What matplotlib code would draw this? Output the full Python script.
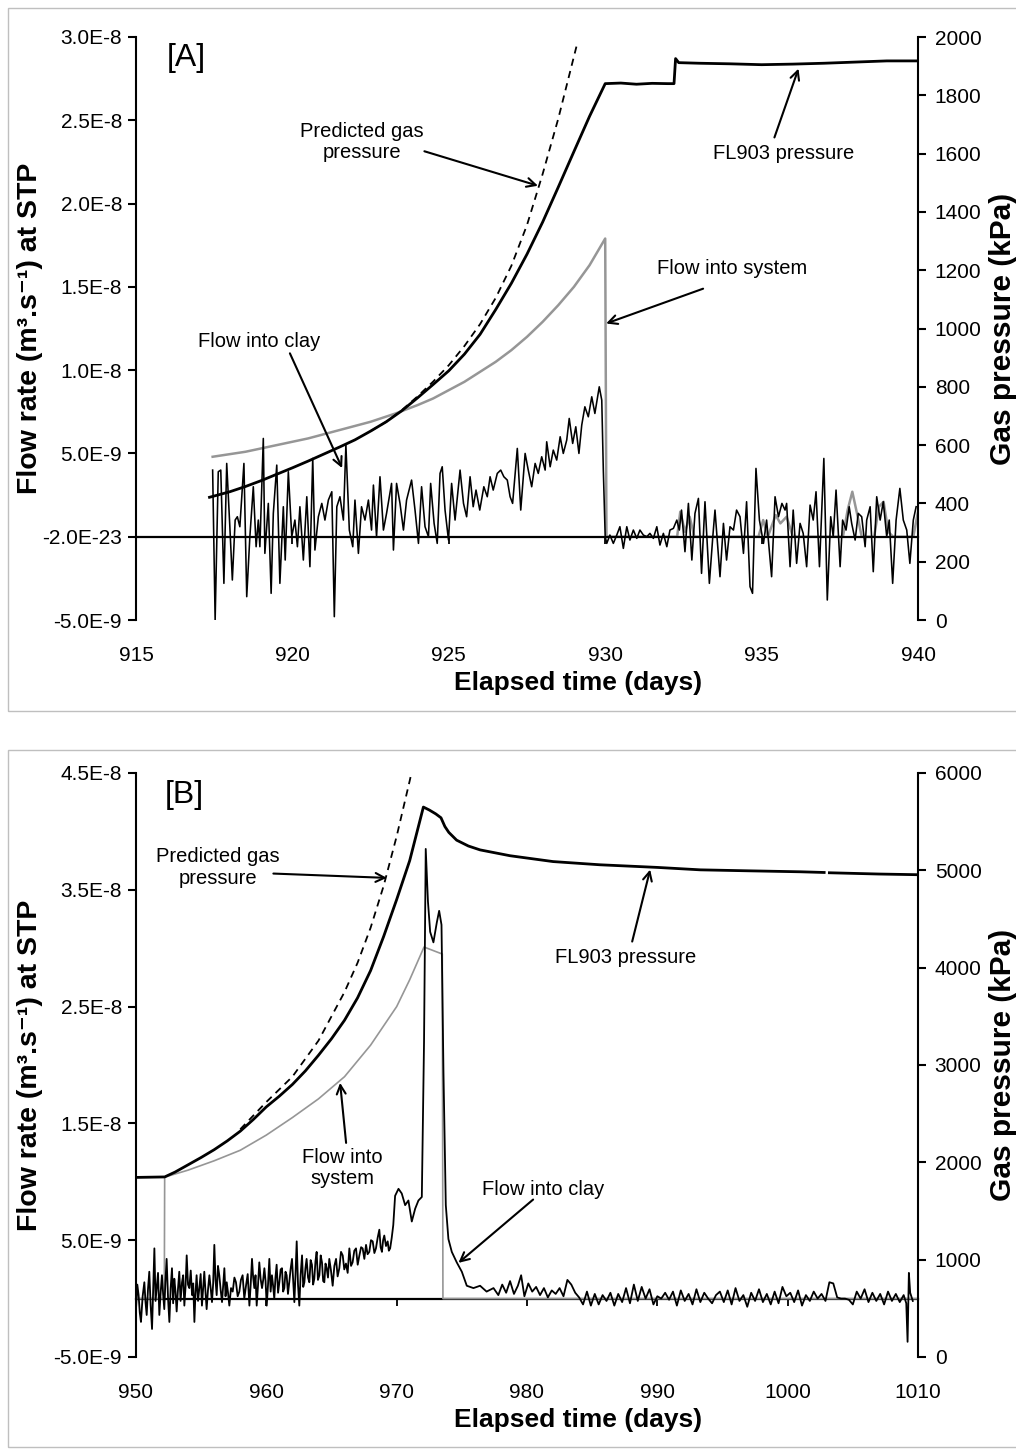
import matplotlib
matplotlib.use('Agg')
import matplotlib.pyplot as plt
import numpy as np
from matplotlib.patches import Rectangle

plt.rcParams['font.family'] = ['Liberation Sans', 'DejaVu Sans']

W, H = 1016, 1450
E9 = 1e-9

# ---------------- Panel A data ----------------
a_x_ticks = [915, 920, 925, 930, 935, 940]
a_flow_ticks = [-5e-9, 0, 5e-9, 1.0e-8, 1.5e-8, 2.0e-8, 2.5e-8, 3.0e-8]
a_flow_labels = ['-5.0E-9', '-2.0E-23', '5.0E-9', '1.0E-8', '1.5E-8', '2.0E-8', '2.5E-8', '3.0E-8']
a_press_ticks = [0, 200, 400, 600, 800, 1000, 1200, 1400, 1600, 1800, 2000]

a_press_days = [917.35, 918.0, 918.5, 919.0, 919.5, 920.0, 920.5, 921.0, 921.5, 922.0, 922.5,
                923.0, 923.5, 924.0, 924.5, 925.0, 925.5, 926.0, 926.5, 927.0, 927.5, 928.0,
                928.5, 929.0, 929.5, 930.0, 930.5, 931.0, 931.5, 932.0, 932.2, 932.25, 932.35,
                933.0, 934.0, 935.0, 936.0, 937.0, 938.0, 939.0, 940.0]
a_press_kpa = [421, 440, 458, 478, 500, 522, 545, 569, 593, 618, 648,
               680, 718, 762, 808, 855, 912, 980, 1065, 1155, 1255, 1365,
               1485, 1607, 1728, 1840, 1842, 1838, 1841, 1840, 1840, 1926, 1912,
               1910, 1908, 1905, 1907, 1910, 1914, 1918, 1918]

a_pred_days = [922.5, 923.0, 923.5, 924.0, 924.5, 925.0, 925.5, 926.0, 926.5, 927.0, 927.5,
               928.0, 928.5, 929.08]
a_pred_kpa = [648, 680, 720, 767, 818, 874, 940, 1015, 1105, 1215, 1355, 1530, 1720, 1967]

a_sys_days = [917.45, 918.5, 919.5, 920.5, 921.5, 922.5, 923.3, 924.0, 924.5, 925.0, 925.5,
              926.0, 926.5, 927.0, 927.5, 928.0, 928.5, 929.0, 929.5, 930.0, 930.04,
              932.3, 932.4, 932.55, 932.7, 932.85, 934.9, 935.05, 935.2, 935.45, 935.6, 935.8,
              936.0, 937.6, 937.75, 937.9, 938.05, 938.2, 938.6, 938.75, 938.9, 939.05, 939.2,
              939.85, 940.0]
a_sys_flow = [4.8, 5.1, 5.5, 5.9, 6.4, 6.9, 7.4, 7.9, 8.3, 8.8, 9.3,
              9.9, 10.5, 11.2, 12.0, 12.9, 13.9, 15.0, 16.3, 17.9, 0.0,
              0.0, 1.5, 0.3, 1.2, 0.0, 0.0, 1.0, 0.0, 1.3, 0.8, 1.2,
              0.0, 0.0, 1.6, 2.7, 1.4, 0.0, 0.0, 1.8, 2.1, 0.3, 0.0,
              0.0, 1.5]

a_clay_days = [917.45, 917.53, 917.63, 917.71, 917.81, 917.90, 918.00, 918.08, 918.17, 918.24,
               918.32, 918.45, 918.54, 918.64, 918.75, 918.84, 918.91, 918.96, 919.07, 919.12,
               919.23, 919.32, 919.39, 919.50, 919.60, 919.71, 919.77, 919.87, 919.98, 920.08,
               920.16, 920.24, 920.35, 920.46, 920.56, 920.65, 920.72, 920.83, 920.94, 921.04,
               921.15, 921.26, 921.34, 921.42, 921.52, 921.63, 921.71, 921.82, 921.93, 922.00,
               922.11, 922.21, 922.32, 922.43, 922.53, 922.59, 922.69, 922.80, 922.91, 923.01,
               923.17, 923.23, 923.33, 923.44, 923.55, 923.65, 923.81, 923.92, 924.03, 924.13,
               924.24, 924.35, 924.42, 924.53, 924.63, 924.72, 924.79, 924.88, 924.99, 925.09,
               925.20, 925.36, 925.47, 925.57, 925.68, 925.78, 925.87, 925.99, 926.12, 926.23,
               926.32, 926.42, 926.55, 926.66, 926.76, 926.87, 926.96, 927.04, 927.19, 927.30,
               927.44, 927.54, 927.65, 927.76, 927.86, 927.97, 928.08, 928.13, 928.24, 928.34,
               928.45, 928.56, 928.66, 928.77, 928.85, 928.96, 929.06, 929.16, 929.25, 929.35,
               929.46, 929.57, 929.67, 929.81, 929.89, 929.94, 930.00, 930.05, 930.15, 930.26,
               930.37, 930.47, 930.58, 930.69, 930.79, 930.90, 931.01, 931.11, 931.22, 931.33,
               931.43, 931.54, 931.65, 931.75, 931.86, 931.97, 932.07, 932.18, 932.29, 932.37,
               932.44, 932.55, 932.66, 932.77, 932.87, 932.98, 933.08, 933.19, 933.33, 933.44,
               933.51, 933.67, 933.78, 933.88, 933.99, 934.10, 934.20, 934.31, 934.42, 934.52,
               934.63, 934.71, 934.82, 934.93, 935.06, 935.16, 935.32, 935.43, 935.54, 935.65,
               935.75, 935.80, 935.91, 936.01, 936.12, 936.23, 936.33, 936.44, 936.55, 936.65,
               936.74, 936.85, 936.92, 936.99, 937.10, 937.21, 937.29, 937.38, 937.51, 937.59,
               937.70, 937.80, 937.88, 937.99, 938.09, 938.20, 938.31, 938.36, 938.47, 938.57,
               938.68, 938.79, 938.89, 939.00, 939.08, 939.19, 939.30, 939.42, 939.53, 939.64,
               939.74, 939.85, 939.94]
a_clay_flow = [4.0, -5.0, 3.9, 4.0, -2.8, 4.4, 0.6, -2.6, 1.0, 1.2,
               0.6, 4.4, -3.6, 0.0, 3.0, -0.6, 1.0, -0.6, 5.9, -1.0,
               2.0, -3.4, 1.4, 4.3, -2.8, 1.8, -1.4, 3.9, 0.0, 1.0,
               -0.6, 1.8, -1.4, 2.4, -1.8, 4.7, -0.8, 1.2, 2.0, 1.0,
               2.2, 2.7, -4.8, 1.8, 2.4, 1.0, 5.5, 0.4, -0.6, 2.2,
               -1.0, 1.8, 1.0, 2.2, 0.4, 3.1, 0.0, 3.6, 0.4, 1.4,
               3.2, -0.8, 3.2, 2.0, 0.4, 2.2, 3.4, 1.6, -0.4, 3.0,
               0.6, 0.0, 3.2, 0.8, -0.4, 3.8, 4.2, 1.6, -0.2, 3.2,
               1.0, 4.0, 2.0, 1.2, 3.6, 1.8, 2.8, 1.6, 3.0, 2.4,
               3.6, 2.8, 3.8, 4.0, 3.6, 3.4, 2.4, 2.0, 5.3, 1.6,
               5.0, 4.0, 3.0, 4.4, 3.8, 4.8, 4.0, 5.7, 4.2, 5.2,
               4.6, 6.0, 5.0, 5.8, 7.1, 5.6, 6.6, 5.0, 6.7, 7.8,
               7.2, 8.4, 7.4, 9.0, 8.2, 4.0, 0.0, -0.4, 0.1, -0.4,
               0.1, 0.6, -0.7, 0.6, -0.2, 0.4, -0.1, 0.4, 0.1, 0.0,
               0.2, -0.1, 0.6, -0.5, 0.2, -0.6, 0.4, 0.5, 1.0, 0.4,
               1.6, -0.9, 2.0, -1.4, 1.4, 2.3, -2.2, 2.1, -2.8, 0.0,
               1.6, -2.4, 0.8, -1.4, 0.6, 0.4, 1.6, 1.2, -1.0, 2.1,
               -3.0, -3.4, 4.1, 1.0, -0.4, 1.0, -2.4, 2.4, 1.2, 2.0,
               1.6, 2.0, -1.8, 1.6, -1.6, 0.8, 0.2, -1.8, 1.9, 1.0,
               2.7, -1.8, 1.4, 4.7, -3.8, 1.2, 0.0, 2.8, -1.8, 1.0,
               0.4, 1.8, 0.8, -0.2, 1.4, 1.2, -0.6, 1.0, 1.8, -2.1,
               2.4, 1.0, 2.1, 0.0, 1.0, -2.8, 1.0, 2.9, 1.0, 0.4,
               -1.6, 1.0, 1.8]

# ---------------- Panel B data ----------------
b_x_ticks = [950, 960, 970, 980, 990, 1000, 1010]
b_flow_ticks = [-5e-9, 5e-9, 1.5e-8, 2.5e-8, 3.5e-8, 4.5e-8]
b_flow_labels = ['-5.0E-9', '5.0E-9', '1.5E-8', '2.5E-8', '3.5E-8', '4.5E-8']
b_press_ticks = [0, 1000, 2000, 3000, 4000, 5000, 6000]

b_press_days = [950.0, 952.2, 953.0, 954.0, 955.0, 956.0, 957.0, 958.0, 959.0, 960.0, 961.0,
                962.0, 963.0, 964.0, 965.0, 966.0, 967.0, 968.0, 969.0, 970.0, 971.0, 972.05,
                972.5, 973.0, 973.4, 973.7, 974.0, 974.6, 975.5, 976.4, 978.7, 982.0, 985.6,
                990.0, 993.3, 997.0, 1001.0, 1002.8, 1003.0, 1003.2, 1007.0, 1010.0]
b_press_kpa = [1845, 1850, 1900, 1975, 2050, 2130, 2220, 2320, 2440, 2570, 2680,
               2800, 2940, 3100, 3270, 3460, 3690, 3970, 4320, 4700, 5100, 5650,
               5620, 5580, 5540, 5450, 5390, 5310, 5250, 5210, 5150, 5090, 5057,
               5030, 5005, 4995, 4985, 4978, np.nan, 4975, 4962, 4955]

b_pred_days = [958.0, 960.0, 962.0, 964.0, 966.0, 967.0, 968.0, 969.0, 970.0, 971.0, 971.3]
b_pred_kpa = [2340, 2620, 2880, 3250, 3750, 4050, 4410, 4840, 5350, 5920, 6100]

b_sys_days = [950.0, 952.17, 952.2, 954.0, 956.0, 958.0, 960.0, 962.0, 964.0, 966.0, 968.0,
              970.0, 971.0, 972.1, 973.5, 973.55, 1010.0]
b_sys_flow = [0.0, 0.0, 10.4, 11.0, 11.8, 12.7, 14.0, 15.5, 17.1, 19.0, 21.7,
              25.0, 27.3, 30.1, 29.5, 0.0, 0.0]

b_clay_days = [950.00, 950.10, 950.20, 950.29, 950.38, 950.51, 950.64, 950.73, 950.82, 950.92,
               951.02, 951.12, 951.23, 951.32, 951.41, 951.50, 951.59, 951.69, 951.79, 951.89,
               951.99, 952.08, 952.17, 952.26, 952.35, 952.46, 952.56, 952.66, 952.76, 952.85,
               952.94, 953.03, 953.12, 953.22, 953.32, 953.42, 953.53, 953.62, 953.71, 953.80,
               953.89, 953.99, 954.09, 954.20, 954.30, 954.39, 954.48, 954.56, 954.65, 954.76,
               954.86, 954.96, 955.06, 955.15, 955.24, 955.33, 955.42, 955.52, 955.63, 955.73,
               955.83, 955.92, 956.01, 956.10, 956.19, 956.29, 956.39, 956.50, 956.60, 956.69,
               956.78, 956.87, 956.96, 957.06, 957.16, 957.29, 957.42, 957.55, 957.67, 957.80,
               957.93, 958.05, 958.18, 958.31, 958.44, 958.57, 958.70, 958.80, 958.90, 958.99,
               959.08, 959.17, 959.26, 959.36, 959.46, 959.56, 959.67, 959.76, 959.85, 959.94,
               960.03, 960.13, 960.23, 960.33, 960.43, 960.52, 960.61, 960.70, 960.79, 960.90,
               961.00, 961.10, 961.20, 961.29, 961.38, 961.47, 961.56, 961.66, 961.76, 961.86,
               961.97, 962.06, 962.15, 962.24, 962.33, 962.43, 962.53, 962.63, 962.74, 962.83,
               962.92, 963.00, 963.09, 963.20, 963.30, 963.40, 963.50, 963.59, 963.68, 963.77,
               963.86, 963.96, 964.07, 964.17, 964.27, 964.36, 964.45, 964.54, 964.63, 964.73,
               964.83, 964.96, 965.09, 965.22, 965.35, 965.47, 965.60, 965.73, 965.86, 965.98,
               966.11, 966.24, 966.37, 966.50, 966.62, 966.75, 966.88, 967.01, 967.14, 967.27,
               967.39, 967.52, 967.65, 967.77, 967.90, 968.03, 968.16, 968.29, 968.41, 968.54,
               968.67, 968.77, 968.87, 968.96, 969.05, 969.18, 969.31, 969.40, 969.50, 969.62,
               969.74, 969.88, 970.14, 970.39, 970.65,
               970.90, 971.16, 971.42, 971.67, 971.93, 972.10, 972.23, 972.40, 972.57, 972.82,
               973.08, 973.26, 973.44, 973.59, 973.77, 973.97, 974.23, 974.61, 975.00, 975.38,
               975.89, 976.40, 976.90, 977.43, 977.8, 978.1, 978.4, 978.7, 979.0, 979.3,
               979.55, 979.8, 980.1, 980.4, 980.7, 981.0, 981.3, 981.6, 981.9, 982.2,
               982.5, 982.8, 983.1, 983.4, 983.7, 984.0, 984.3, 984.6, 984.9, 985.2,
               985.5, 985.8, 986.1, 986.4, 986.7, 987.0, 987.3, 987.6, 987.9, 988.2,
               988.5, 988.8, 989.1, 989.4, 989.7, 990.0, 990.3, 990.6, 990.9, 991.2,
               991.5, 991.8, 992.1, 992.4, 992.7, 993.0, 993.3, 993.6, 993.9, 994.2,
               994.5, 994.8, 995.1, 995.4, 995.7, 996.0, 996.3, 996.6, 996.9, 997.2,
               997.5, 997.8, 998.1, 998.4, 998.7, 999.0, 999.3, 999.6, 999.9, 1000.2,
               1000.5, 1000.8, 1001.1, 1001.4, 1001.7, 1002.0, 1002.3, 1002.6, 1002.9, 1003.2,
               1003.5, 1003.8, 1004.1, 1004.4, 1004.7, 1005.0, 1005.3, 1005.6, 1005.9, 1006.2,
               1006.5, 1006.8, 1007.1, 1007.4, 1007.7, 1008.0, 1008.3, 1008.6, 1008.9, 1009.1,
               1009.2, 1009.3, 1009.4, 1009.6]
b_clay_flow = [-0.9, 1.2, 0.3, -1.2, -2.0, 0.2, 1.4, -0.3, -1.4, 0.8,
               2.3, -0.5, -2.6, 1.0, 4.3, -0.2, 0.9, 2.2, -1.4, 0.5,
               2.0, 0.4, -0.9, 1.5, 3.4, 0.0, -2.0, 0.9, 2.6, -0.4,
               1.7, 0.6, -1.1, 0.8, 2.3, -0.2, 1.4, 2.0, -0.6, 1.0,
               3.7, 1.2, 0.9, 2.4, 0.3, 1.3, -2.0, 0.4, 2.0, -0.2,
               0.9, 2.1, -0.6, 0.8, 2.3, 0.6, -0.9, 0.7, 2.0, 0.9,
               -0.3, 1.3, 4.6, 1.6, 0.3, 2.8, 2.0, 0.7, -0.3, 1.1,
               2.6, 0.2, 1.4, 0.5, -0.6, 0.9, 0.6, 1.8, 1.4, 0.2,
               0.6, 1.6, 2.0, 0.0, 1.1, 2.1, -0.6, 1.2, 3.4, 1.8,
               0.9, 2.0, -0.6, 1.1, 3.1, 1.7, 0.9, 1.6, 2.6, 1.5,
               -0.6, 1.2, 3.4, 0.6, 2.0, 1.1, 0.0, 1.8, 2.9, 0.5,
               1.4, 2.5, 2.6, 0.6, 0.9, 2.3, 2.0, 0.4, 1.4, 2.5,
               3.4, 1.6, -0.3, 2.1, 4.9, 1.2, -0.6, 2.0, 3.7, 1.0,
               1.4, 2.6, 3.4, 1.8, 1.4, 3.3, 2.9, 1.2, 1.7, 3.2,
               4.0, 1.6, 2.0, 3.7, 3.1, 1.5, 1.4, 3.0, 2.6, 1.8,
               3.4, 2.4, 1.1, 2.8, 3.4, 1.9, 2.6, 4.0, 3.7, 2.5,
               3.0, 2.2, 4.3, 2.8, 3.1, 4.1, 4.3, 2.9, 3.7, 4.4,
               4.3, 3.4, 4.6, 3.8, 4.0, 5.0, 4.9, 3.9, 4.3, 5.2,
               5.9, 4.4, 4.0, 5.0, 5.4, 4.5, 4.9, 4.1, 4.3, 5.2,
               6.3, 8.8, 9.4, 9.0, 8.0,
               8.4, 6.6, 7.7, 8.4, 8.7, 22.0, 38.5, 34.0, 31.4, 30.5,
               32.2, 33.2, 32.0, 19.4, 8.0, 5.1, 4.0, 3.1, 2.3, 1.1,
               0.9, 1.1, 0.6, 0.9, 0.3, 1.2, 0.5, 1.5, 0.4, 1.1,
               2.0, 0.2, 1.3, 0.6, 1.0, 0.3, 0.9, 0.1, 0.7, 0.4,
               0.9, 0.2, 1.6, 1.2, 0.5, 0.1, -0.5, 0.6, -0.6, 0.4,
               -0.5, 0.3, -0.2, 0.5, -0.6, 0.4, -0.3, 0.9, -0.4, 1.2,
               -0.2, 1.0, 0.0, 0.8, -0.5, 0.2, 0.0, 0.5, -0.1, 0.6,
               -0.6, 0.7, -0.2, 0.4, -0.5, 0.8, -0.3, 0.5, 0.0, -0.4,
               0.3, 0.6, -0.3, 0.7, -0.5, 0.9, -0.2, 0.3, -0.7, 0.5,
               -0.2, 0.8, -0.3, 0.4, -0.5, 0.6, -0.4, 1.0, 0.2, 0.5,
               -0.3, 0.7, -0.6, 0.3, -0.2, 0.6, 0.0, 0.4, -0.2, 1.4,
               1.3, 0.1, 0.0, 0.0, -0.1, -0.5, 0.6, 0.0, 0.8, -0.3,
               0.5, -0.2, 0.4, -0.5, 0.6, -0.2, 0.4, -0.3, 0.3, -0.4,
               -3.7, 2.2, 0.5, -0.2]

GRAY = '#969696'
TICK_FS = 15


def px_rect(left, top, right, bottom):
    return [left / W, 1 - bottom / H, (right - left) / W, (bottom - top) / H]


def make_panel(fig, rect, xlim, xticks, flim, fticks, flabels, plim, pticks,
               sys_d, sys_f, clay_d, clay_f, pr_d, pr_k, pd_d, pd_k, sys_lw, sys_z, clay_lw):
    ax = fig.add_axes(rect)
    ax.set_xlim(*xlim)
    ax.set_ylim(*flim)
    ax.patch.set_alpha(0)
    for s in ['top', 'right', 'bottom']:
        ax.spines[s].set_visible(False)
    ax.spines['left'].set_linewidth(1.5)
    ax.set_yticks(fticks)
    ax.set_yticklabels(flabels)
    ax.tick_params(axis='y', direction='out', length=6, width=1.5, labelsize=TICK_FS, pad=4)
    ax.set_xticks(xticks)
    ax.set_xticklabels([str(t) for t in xticks])
    ax.tick_params(axis='x', length=0, labelsize=TICK_FS, pad=19)

    zero_frac = (0 - flim[0]) / (flim[1] - flim[0])
    sec = ax.secondary_xaxis(zero_frac)
    sec.set_xticks(xticks)
    sec.tick_params(axis='x', direction='out', length=5, width=1.3,
                    labelbottom=False, labeltop=False)
    sec.spines['bottom'].set_linewidth(1.6)

    ax.plot(sys_d, np.array(sys_f) * E9, color=GRAY, lw=sys_lw, zorder=sys_z)
    ax.plot(clay_d, np.array(clay_f) * E9, color='black', lw=clay_lw, zorder=2)

    ax2 = ax.twinx()
    ax2.set_ylim(*plim)
    for s in ['top', 'left', 'bottom']:
        ax2.spines[s].set_visible(False)
    ax2.spines['right'].set_linewidth(1.5)
    ax2.set_yticks(pticks)
    ax2.tick_params(axis='y', direction='out', length=6, width=1.5, labelsize=TICK_FS, pad=6)
    ax2.plot(pd_d, pd_k, color='black', lw=1.3, ls=(0, (4, 3)))
    ax2.plot(pr_d, pr_k, color='black', lw=2.0)
    return ax, ax2


fig = plt.figure(figsize=(W / 100, H / 100), dpi=100)

# chart-area frames
fig.patches.append(Rectangle((8 / W, 1 - 711 / H), 1.2, (711 - 8) / H, transform=fig.transFigure,
                             fill=False, edgecolor='#bfbfbf', lw=1.0))
fig.patches.append(Rectangle((8 / W, 1 - 1447 / H), 1.2, (1447 - 750) / H, transform=fig.transFigure,
                             fill=False, edgecolor='#bfbfbf', lw=1.0))

arrow = dict(arrowstyle='->', lw=1.5, color='black', mutation_scale=16, shrinkA=0, shrinkB=0)
tkw = dict(fontsize=14.5, ha='center', va='center', linespacing=1.15)

# ---- Panel A ----
axA, axA2 = make_panel(fig, px_rect(136, 37, 918, 620), (915, 940), a_x_ticks,
                       (-5e-9, 3.0e-8), a_flow_ticks, a_flow_labels, (0, 2000), a_press_ticks,
                       a_sys_days, a_sys_flow, a_clay_days, a_clay_flow,
                       a_press_days, a_press_kpa, a_pred_days, a_pred_kpa, 1.8, -0.5, 1.15)
axA.text(916.6, 28.75 * E9, '[A]', fontsize=23, ha='center', va='center')
axA.text(922.22, 23.71 * E9, 'Predicted gas\npressure', **tkw)
axA.annotate('', xy=(927.85, 21.07 * E9), xytext=(924.22, 23.14 * E9), arrowprops=arrow)
axA.text(935.72, 23.0 * E9, 'FL903 pressure', **tkw)
axA.annotate('', xy=(936.18, 28.1 * E9), xytext=(935.41, 23.97 * E9), arrowprops=arrow)
axA.text(934.05, 16.11 * E9, 'Flow into system', **tkw)
axA.annotate('', xy=(930.03, 12.8 * E9), xytext=(933.13, 14.89 * E9), arrowprops=arrow)
axA.text(918.93, 11.7 * E9, 'Flow into clay', **tkw)
axA.annotate('', xy=(921.59, 4.12 * E9), xytext=(919.92, 11.01 * E9), arrowprops=arrow)

# ---- Panel B ----
axB, axB2 = make_panel(fig, px_rect(136, 773, 918, 1357), (950, 1010), b_x_ticks,
                       (-5e-9, 4.5e-8), b_flow_ticks, b_flow_labels, (0, 6000), b_press_ticks,
                       b_sys_days, b_sys_flow, b_clay_days, b_clay_flow,
                       b_press_days, b_press_kpa, b_pred_days, b_pred_kpa, 1.2, 1.5, 1.3)
axB.text(953.68, 43.15 * E9, '[B]', fontsize=23, ha='center', va='center')
axB.text(956.29, 36.9 * E9, 'Predicted gas\npressure', **tkw)
axB.annotate('', xy=(969.24, 36.02 * E9), xytext=(960.54, 36.39 * E9), arrowprops=arrow)
axB.text(987.6, 29.2 * E9, 'FL903 pressure', **tkw)
axB.annotate('', xy=(989.45, 36.73 * E9), xytext=(988.07, 30.57 * E9), arrowprops=arrow)
axB.text(965.81, 11.2 * E9, 'Flow into\nsystem', **tkw)
axB.annotate('', xy=(965.66, 18.47 * E9), xytext=(966.12, 13.33 * E9), arrowprops=arrow)
axB.text(981.24, 9.33 * E9, 'Flow into clay', **tkw)
axB.annotate('', xy=(974.74, 3.06 * E9), xytext=(980.47, 8.48 * E9), arrowprops=arrow)

# axis titles
flow_label = 'Flow rate (m\u00b3.s\u207b\u00b9) at STP'
for cy, by in [((37 + 620) / 2, 683), ((773 + 1357) / 2, 1420)]:
    fig.text(30 / W, 1 - cy / H, flow_label, rotation=90, ha='center', va='center',
             fontsize=20.5, fontweight='bold')
    fig.text(1003 / W, 1 - cy / H, 'Gas pressure (kPa)', rotation=90, ha='center', va='center',
             fontsize=21.5, fontweight='bold')
    fig.text(578 / W, 1 - by / H, 'Elapsed time (days)', ha='center', va='center',
             fontsize=19, fontweight='bold')

fig.savefig('out.png', dpi=100)
